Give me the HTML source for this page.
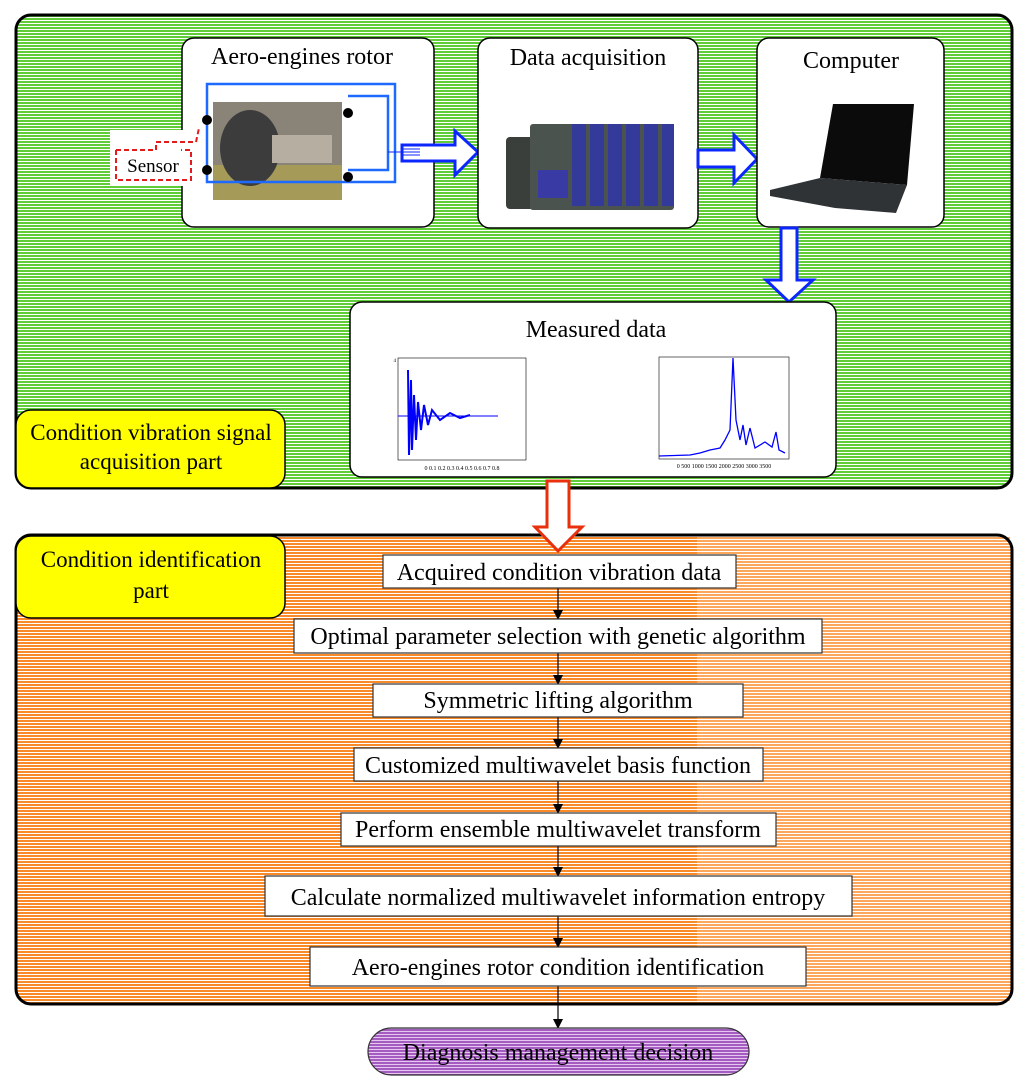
<!DOCTYPE html>
<html><head><meta charset="utf-8"><style>
html,body{margin:0;padding:0;background:#fff}
svg{display:block}
text{font-family:"Liberation Serif",serif;fill:#000}
</style></head><body>
<svg width="1024" height="1087" viewBox="0 0 1024 1087" xmlns="http://www.w3.org/2000/svg">
<defs>
<pattern id="gr" width="4" height="3" patternUnits="userSpaceOnUse"><rect width="4" height="3" fill="#fff"/><rect width="4" height="2" fill="#5fcc38"/></pattern>
<pattern id="or" width="4" height="3" patternUnits="userSpaceOnUse"><rect width="4" height="3" fill="#fff"/><rect width="4" height="2" fill="#f98a2a"/></pattern>
<pattern id="or2" width="4" height="3" patternUnits="userSpaceOnUse"><rect width="4" height="3" fill="#fff"/><rect width="4" height="2" fill="#fba75e"/></pattern>
<pattern id="pu" width="4" height="3" patternUnits="userSpaceOnUse"><rect width="4" height="3" fill="#e6c7f0"/><rect width="4" height="2" fill="#a45cc0"/></pattern>
<marker id="ah" markerWidth="10" markerHeight="10" refX="9" refY="5" orient="auto" markerUnits="userSpaceOnUse"><path d="M0,0 L10,5 L0,10 z" fill="#000"/></marker>
</defs>

<!-- green panel -->
<rect x="16" y="15" width="996" height="473" rx="15" fill="url(#gr)" stroke="#000" stroke-width="3"/>

<!-- box 1 -->
<rect x="182" y="38" width="252" height="189" rx="12" fill="#fff" stroke="#000" stroke-width="1.5"/>
<text x="302" y="64" font-size="24" text-anchor="middle">Aero-engines rotor</text>
<rect x="213" y="102" width="129" height="98" fill="#8a8478"/>
<rect x="213" y="165" width="129" height="35" fill="#a69a58"/>
<ellipse cx="250" cy="148" rx="30" ry="38" fill="#3c3c3c"/>
<rect x="272" y="135" width="60" height="28" fill="#b6aea0"/>
<rect x="207" y="84" width="188" height="98" fill="none" stroke="#1e6aff" stroke-width="2.5"/>
<polyline points="348,96 388,96 388,170 348,170" fill="none" stroke="#1e6aff" stroke-width="2.5"/>
<rect x="110" y="130" width="93" height="56" fill="#fff"/>
<circle cx="207" cy="120" r="5" fill="#000"/>
<circle cx="207" cy="170" r="5" fill="#000"/>
<circle cx="348" cy="113" r="5" fill="#000"/>
<circle cx="348" cy="177" r="5" fill="#000"/>
<path d="M116,150 L156,150 L156,142 L196,142 L199,128" fill="none" stroke="#e21c1c" stroke-width="2" stroke-dasharray="5,3"/>
<path d="M116,150 L116,180 L191,180 L191,150 L181,150" fill="none" stroke="#e21c1c" stroke-width="2" stroke-dasharray="5,3"/>
<text x="153" y="172" font-size="19" text-anchor="middle">Sensor</text>
<!-- blue right arrow 1 -->
<path d="M402,145 L455,145 L455,131 L478,152 L455,175 L455,161 L402,161 Z" fill="#fff" stroke="#0b26ff" stroke-width="3"/>
<path d="M388,152 L402,152 M402,149 L420,149 M402,152 L420,152 M402,155 L420,155" stroke="#0b26ff" stroke-width="1"/>

<!-- box 2 -->
<rect x="478" y="38" width="220" height="190" rx="12" fill="#fff" stroke="#000" stroke-width="1.5"/>
<text x="588" y="65" font-size="24" text-anchor="middle">Data acquisition</text>
<rect x="506" y="137" width="28" height="72" rx="4" fill="#3a3f3c"/>
<rect x="530" y="124" width="144" height="86" rx="3" fill="#4b534f"/>
<rect x="572" y="124" width="14" height="82" fill="#333a9a"/><rect x="590" y="124" width="14" height="82" fill="#333a9a"/><rect x="608" y="124" width="14" height="82" fill="#333a9a"/><rect x="626" y="124" width="14" height="82" fill="#333a9a"/><rect x="644" y="124" width="14" height="82" fill="#333a9a"/><rect x="662" y="124" width="12" height="82" fill="#333a9a"/>
<rect x="538" y="170" width="30" height="28" fill="#3a3aa5"/>
<!-- blue arrow 2 -->
<path d="M698,150 L734,150 L734,135 L757,159 L734,183 L734,167 L698,167 Z" fill="#fff" stroke="#0b26ff" stroke-width="3"/>

<!-- box 3 -->
<rect x="757" y="38" width="187" height="189" rx="12" fill="#fff" stroke="#000" stroke-width="1.5"/>
<text x="851" y="68" font-size="24" text-anchor="middle">Computer</text>
<path d="M833,104 L914,104 L907,185 L820,178 Z" fill="#0b0b0c"/>
<path d="M770,190 L820,178 L907,185 L896,213 L835,208 L770,196 Z" fill="#2f3336"/>
<!-- blue down arrow -->
<path d="M781,228 L797,228 L797,280 L813,280 L789,302 L766,280 L781,280 Z" fill="#fff" stroke="#0b26ff" stroke-width="3"/>

<!-- measured data -->
<rect x="350" y="302" width="486" height="175" rx="12" fill="#fff" stroke="#000" stroke-width="1.5"/>
<text x="596" y="337" font-size="24" text-anchor="middle">Measured data</text>
<rect x="398" y="358" width="128" height="102" fill="none" stroke="#000" stroke-width="0.6"/>
<line x1="398" y1="416" x2="498" y2="416" stroke="#0000ff" stroke-width="1"/>
<path d="M408,370 L409,455 L411,380 L412,450 L414,395 L416,440 L418,402 L421,430 L424,405 L428,425 L432,410 L440,420 L450,413 L460,418 L470,415" fill="none" stroke="#0000ff" stroke-width="2"/>
<text x="396" y="362" font-size="5" text-anchor="end" font-family="Liberation Sans">4</text>
<text x="462" y="470" font-size="6" text-anchor="middle" font-family="Liberation Sans">0  0.1  0.2  0.3  0.4  0.5  0.6  0.7  0.8</text>
<rect x="659" y="357" width="130" height="102" fill="none" stroke="#000" stroke-width="0.6"/>
<path d="M659,456 L690,455 L700,453 L710,450 L720,448 L725,440 L730,430 L733,358 L736,420 L740,440 L743,425 L746,445 L750,428 L755,448 L765,442 L772,447 L776,432 L779,450 L785,453" fill="none" stroke="#0000ff" stroke-width="1.3"/>
<text x="724" y="468" font-size="6" text-anchor="middle" font-family="Liberation Sans">0  500  1000 1500 2000 2500 3000 3500</text>

<!-- yellow label 1 -->
<rect x="16" y="410" width="269" height="78" rx="15" fill="#ffff00" stroke="#000" stroke-width="1.5"/>
<text x="151" y="440" font-size="23" text-anchor="middle">Condition vibration signal</text>
<text x="151" y="469" font-size="23" text-anchor="middle">acquisition part</text>

<!-- orange panel -->
<rect x="16" y="535" width="996" height="469" rx="15" fill="url(#or)"/>
<rect x="697" y="537" width="313" height="465" fill="url(#or2)"/>
<rect x="16" y="535" width="996" height="469" rx="15" fill="none" stroke="#000" stroke-width="3"/>

<!-- red arrow -->
<path d="M547,481 L569,481 L569,527 L582,527 L558,551 L535,527 L547,527 Z" fill="#fff" stroke="#e8300c" stroke-width="3"/>

<!-- yellow label 2 -->
<rect x="16" y="536" width="269" height="82" rx="15" fill="#ffff00" stroke="#000" stroke-width="1.5"/>
<text x="151" y="567" font-size="23" text-anchor="middle">Condition identification</text>
<text x="151" y="598" font-size="23" text-anchor="middle">part</text>

<!-- flow -->
<g stroke="#000" stroke-width="1.2">
<line x1="558" y1="588" x2="558" y2="619" marker-end="url(#ah)"/>
<line x1="558" y1="653" x2="558" y2="684" marker-end="url(#ah)"/>
<line x1="558" y1="717" x2="558" y2="748" marker-end="url(#ah)"/>
<line x1="558" y1="781" x2="558" y2="813" marker-end="url(#ah)"/>
<line x1="558" y1="846" x2="558" y2="876" marker-end="url(#ah)"/>
<line x1="558" y1="916" x2="558" y2="947" marker-end="url(#ah)"/>
<line x1="558" y1="986" x2="558" y2="1028" marker-end="url(#ah)"/>
</g>
<g fill="#fff" stroke="#333" stroke-width="1.2">
<rect x="383" y="555" width="353" height="33"/>
<rect x="294" y="619" width="528" height="34"/>
<rect x="373" y="684" width="370" height="33"/>
<rect x="354" y="748" width="409" height="33"/>
<rect x="341" y="813" width="435" height="33"/>
<rect x="265" y="876" width="587" height="40"/>
<rect x="310" y="947" width="496" height="39"/>
</g>
<g font-size="24" text-anchor="middle">
<text x="559" y="580">Acquired condition vibration data</text>
<text x="558" y="644">Optimal parameter selection with genetic algorithm</text>
<text x="558" y="708">Symmetric lifting algorithm</text>
<text x="558" y="773">Customized multiwavelet basis function</text>
<text x="558" y="837">Perform ensemble multiwavelet transform</text>
<text x="558" y="905">Calculate normalized multiwavelet information entropy</text>
<text x="558" y="975">Aero-engines rotor condition identification</text>
</g>

<!-- diagnosis -->
<rect x="368" y="1028" width="381" height="47" rx="23.5" fill="url(#pu)" stroke="#333" stroke-width="1.2"/>
<text x="558" y="1060" font-size="24" text-anchor="middle">Diagnosis management decision</text>
</svg>
</body></html>
